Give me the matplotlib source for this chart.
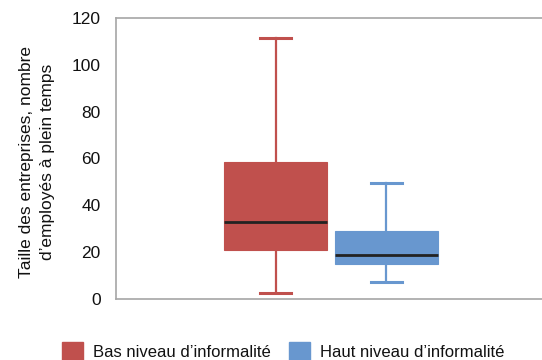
import matplotlib
matplotlib.use("Agg")
import matplotlib.pyplot as plt
import matplotlib.patches as patches
from matplotlib import rcParams

rcParams['font.family'] = ['Liberation Sans Narrow', 'Liberation Sans', 'DejaVu Sans']

# box plot summary stats
groups = ["Bas niveau d\u2019informalit\u00e9", "Haut niveau d\u2019informalit\u00e9"]
whislo = [2.7, 7.4]
q1 = [21.0, 14.9]
med = [32.8, 18.9]
q3 = [58.5, 29.2]
whishi = [111.4, 49.6]
colors = ['#C0504D', '#6897CF']

yticks = [0, 20, 40, 60, 80, 100, 120]
ylabel = "Taille des entreprises, nombre\nd\u2019employ\u00e9s \u00e0 plein temps"

W, H = 542, 360
fig = plt.figure(figsize=(W / 100, H / 100), dpi=100)
ax = fig.add_axes([116 / W, (H - 299) / H, 430 / W, 281 / H])

stats = []
for i in range(len(groups)):
    stats.append(dict(whislo=whislo[i], q1=q1[i], med=med[i], q3=q3[i],
                      whishi=whishi[i], fliers=[], label=groups[i]))

bp = ax.bxp(stats, positions=[0, 1], widths=0.93, patch_artist=True,
            showfliers=False, manage_ticks=False)
for i, c in enumerate(colors):
    bp['boxes'][i].set(facecolor=c, edgecolor=c, linewidth=0.8)
    for w in bp['whiskers'][2 * i:2 * i + 2]:
        w.set(color=c, linewidth=1.6)
    for cp in bp['caps'][2 * i:2 * i + 2]:
        cp.set(color=c, linewidth=2.2)
        xd = cp.get_xdata()
        mid = (xd[0] + xd[1]) / 2
        cp.set_xdata([mid - 0.14, mid + 0.14])
    bp['medians'][i].set(color='#222222', linewidth=2)

ax.set_xlim(-1.437, 2.437)
ax.set_ylim(0, 120)
ax.set_yticks(yticks)
ax.tick_params(axis='y', length=0, labelsize=12.5, pad=11, colors='#111111')
ax.tick_params(axis='x', length=0, labelbottom=False)
for s in ax.spines.values():
    s.set_color('#A6A6A6')
    s.set_linewidth(1.2)

fig.text(37 / W, 0.55, ylabel, rotation=90, ha='center', va='center',
         fontsize=12.5, color='#111111', linespacing=1.5)

handles = [patches.Patch(facecolor=c, edgecolor=c) for c in colors]
fig.legend(handles, groups, loc='lower left', bbox_to_anchor=(47 / W, -15 / H),
           ncol=2, frameon=False, fontsize=12, handlelength=1.25,
           handleheight=1.25, handletextpad=0.6, columnspacing=1.1,
           labelcolor='#111111')

fig.savefig("out.png", dpi=100)
